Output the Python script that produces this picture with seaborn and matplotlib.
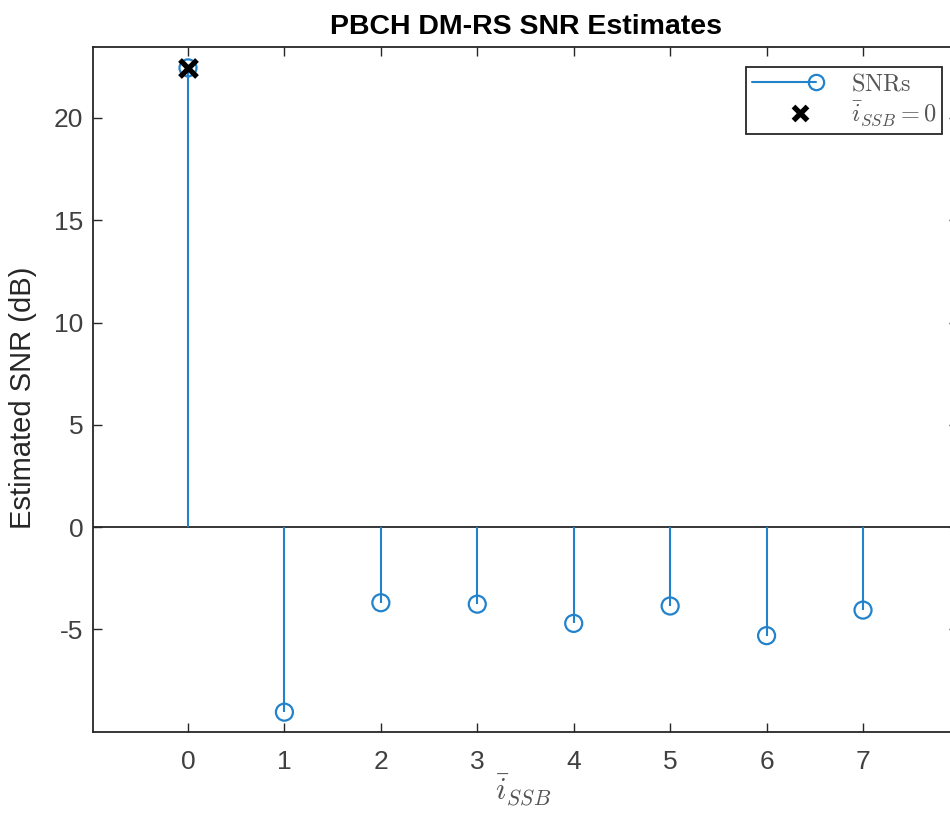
import numpy as np
import pandas as pd
import seaborn as sns
import matplotlib
matplotlib.use("Agg")
import matplotlib.pyplot as plt
from matplotlib.lines import Line2D
from matplotlib.legend_handler import HandlerBase

# ---- data ----
ssb_index = [0, 1, 2, 3, 4, 5, 6, 7]
snr_db = [22.45, -9.05, -3.70, -3.77, -4.71, -3.86, -5.31, -4.06]
detected_index = [0]
detected_snr = [22.45]
x_ticks = [0, 1, 2, 3, 4, 5, 6, 7]
y_ticks = [-5, 0, 5, 10, 15, 20]

title_text = "PBCH DM-RS SNR Estimates"
xlabel_text = r"$\bar{i}_{SSB}$"
ylabel_text = "Estimated SNR (dB)"
legend_labels = [r"$\mathrm{SNRs}$", r"$\bar{i}_{SSB}=0$"]

sns.set_theme(style="ticks")
plt.rcParams["font.family"] = ["Liberation Sans", "DejaVu Sans"]
plt.rcParams["mathtext.fontset"] = "cm"
plt.rcParams["axes.unicode_minus"] = False

BLUE = "#2282cc"
DARK = "#262626"
GREY = "#404040"

df = pd.DataFrame({"i": ssb_index, "snr": snr_db})
det = pd.DataFrame({"i": detected_index, "snr": detected_snr})

fig = plt.figure(figsize=(9.5, 8.13), dpi=100)
W, H = 950, 813
left, right, top, bottom = 93, 958, 47, 732
ax = fig.add_axes([left / W, 1 - bottom / H, (right - left) / W, (bottom - top) / H])

# stems
ax.vlines(df["i"], 0, df["snr"], color=BLUE, lw=1.5, zorder=2)
# baseline
ax.axhline(0, color=DARK, lw=1.3, zorder=1)
# stem heads
sns.scatterplot(data=df, x="i", y="snr", ax=ax, marker="o", s=150,
                facecolor="none", edgecolor=BLUE, linewidth=1.6, zorder=3,
                legend=False)
# detected marker
sns.scatterplot(data=det, x="i", y="snr", ax=ax, marker="x", s=150,
                color="black", linewidth=3.8, zorder=4, legend=False)

ax.set_xlim(-0.985, 7.985)
ax.set_ylim(-10.02, 23.47)
ax.set_xticks(x_ticks)
ax.set_yticks(y_ticks)
ax.set_xticklabels([str(v) for v in x_ticks])
ax.set_yticklabels([str(v) for v in y_ticks])

for s in ax.spines.values():
    s.set_visible(True)
    s.set_color(DARK)
    s.set_linewidth(1.3)
ax.spines["right"].set_visible(False)

ax.tick_params(axis="both", direction="in", length=6.5, width=1.0,
               color=DARK, labelsize=19, labelcolor=GREY,
               top=True, right=True)
ax.tick_params(axis="x", pad=13)
ax.tick_params(axis="y", pad=7)

ax.set_title(title_text, fontsize=20.5, fontweight="bold", color="black", pad=9.5)
ax.set_ylabel(ylabel_text, fontsize=21, color=DARK)
ax.yaxis.set_label_coords((37 - left) / (right - left), 0.488)
ax.set_xlabel("")
fig.text(523 / W, 1 - 800 / H, xlabel_text, fontsize=22,
         color="#555555", ha="center", va="baseline")


class StemHandler(HandlerBase):
    def __init__(self, kind):
        super().__init__()
        self.kind = kind

    def create_artists(self, legend, orig_handle, xdescent, ydescent,
                       width, height, fontsize, trans):
        y = height / 2 - ydescent
        x0 = -xdescent
        if self.kind == "stem":
            ln = Line2D([x0, x0 + width], [y, y], color=BLUE, lw=1.5)
            mk = Line2D([x0 + width], [y], marker="o", mfc="none", mec=BLUE,
                        ms=11, mew=1.6, ls="none")
            arts = [ln, mk]
        else:
            mk = Line2D([x0 + width * 0.75], [y], marker="x", color="black",
                        ms=10, mew=3.8, ls="none")
            arts = [mk]
        for a in arts:
            a.set_transform(trans)
        return arts


h1 = Line2D([], [])
h2 = Line2D([], [])
leg = fig.legend([h1, h2], legend_labels,
                 handler_map={h1: StemHandler("stem"), h2: StemHandler("x")},
                 loc="upper right", bbox_to_anchor=(942 / W, 1 - 67 / H),
                 bbox_transform=fig.transFigure, borderaxespad=0,
                 fontsize=17.5, frameon=True, fancybox=False, framealpha=1,
                 edgecolor=DARK, handlelength=2.65, handletextpad=1.4,
                 labelspacing=0.18, borderpad=0.25)
leg.get_frame().set_linewidth(1.3)
for t in leg.get_texts():
    t.set_color("#555555")

fig.savefig("out.png", dpi=100)
